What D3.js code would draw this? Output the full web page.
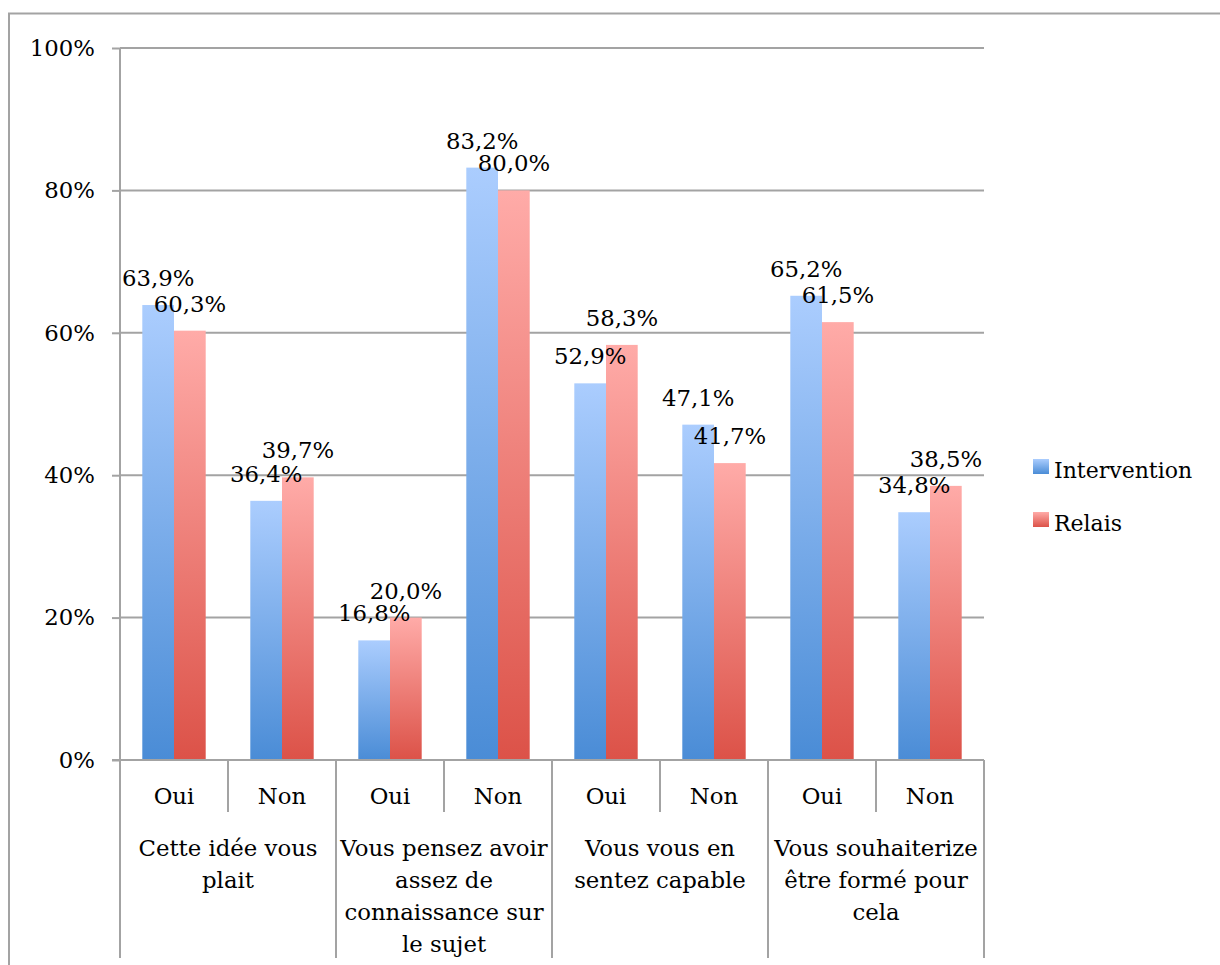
<!DOCTYPE html>
<html><head><meta charset="utf-8">
<script src="https://cdn.jsdelivr.net/npm/d3@7"></script>
<style>body{margin:0;background:#fff}svg{display:block}text{font-family:"DejaVu Serif",serif;fill:#000}</style>
</head><body>
<script>
const groups = [
  ["Cette idée vous", "plait"],
  ["Vous pensez avoir", "assez de", "connaissance sur", "le sujet"],
  ["Vous vous en", "sentez capable"],
  ["Vous souhaiterize", "être formé pour", "cela"]
];
const answers = ["Oui", "Non"];
const series = ["Intervention", "Relais"];
const intervention = [0.639, 0.364, 0.168, 0.832, 0.529, 0.471, 0.652, 0.348];
const relais = [0.603, 0.397, 0.200, 0.800, 0.583, 0.417, 0.615, 0.385];
const yTicks = [0, 0.2, 0.4, 0.6, 0.8, 1.0];

(function () {
const W = 1220, H = 965;
const svg = d3.select("body").append("svg").attr("width", W).attr("height", H);
const FS = 22.8;

const defs = svg.append("defs");
const grads = [["gBlue", "#abcdfe", "#4a8cd6"], ["gRed", "#ffaba8", "#dc5248"]];
grads.forEach(([id, c1, c2]) => {
  const g = defs.append("linearGradient").attr("id", id).attr("x1", 0).attr("y1", 0).attr("x2", 0).attr("y2", 1);
  g.append("stop").attr("offset", "0%").attr("stop-color", c1);
  g.append("stop").attr("offset", "100%").attr("stop-color", c2);
});
const fills = ["url(#gBlue)", "url(#gRed)"];

svg.append("rect").attr("x", 9).attr("y", 13.5).attr("width", W + 20).attr("height", H + 20)
  .attr("fill", "none").attr("stroke", "#a3a3a3").attr("stroke-width", 2);

const pLeft = 120, pRight = 984, pTop = 48, pBottom = 760;
const y = d3.scaleLinear().domain([0, 1]).range([pBottom, pTop]);
const subs = [];
groups.forEach((g, gi) => answers.forEach((a, ai) => subs.push(gi * 2 + ai)));
const x0 = d3.scaleBand().domain(subs).range([pLeft, pRight]).padding(0);
const x1 = d3.scaleBand().domain(series).range([22.3, x0.bandwidth() - 22.3]).padding(0);

const axisColor = "#a3a3a3";
const yAxis = d3.axisLeft(y).tickValues(yTicks).tickFormat(d3.format(".0%")).tickSize(8).tickPadding(17);
const ya = svg.append("g").attr("transform", `translate(${pLeft},0)`).call(yAxis);
ya.select(".domain").remove();
ya.selectAll(".tick line").attr("stroke", axisColor).attr("stroke-width", 2);
ya.selectAll(".tick text").style("font-family", "DejaVu Serif").style("font-size", FS + "px").attr("fill", "#000");
svg.append("g").selectAll("line").data(yTicks).join("line")
  .attr("x1", pLeft).attr("x2", pRight).attr("y1", d => y(d)).attr("y2", d => y(d))
  .attr("stroke", axisColor).attr("stroke-width", 2);

const vals = [intervention, relais];
series.forEach((s, si) => {
  svg.append("g").selectAll("rect").data(vals[si]).join("rect")
    .attr("x", (d, i) => x0(i) + x1(s))
    .attr("width", x1.bandwidth())
    .attr("y", d => y(d))
    .attr("height", d => y(0) - y(d))
    .attr("fill", fills[si]);
});

svg.append("line").attr("x1", pLeft).attr("x2", pLeft).attr("y1", pTop).attr("y2", 958)
  .attr("stroke", axisColor).attr("stroke-width", 2);
svg.append("line").attr("x1", pLeft - 8).attr("x2", pRight).attr("y1", pBottom).attr("y2", pBottom)
  .attr("stroke", axisColor).attr("stroke-width", 2);
subs.forEach(i => {
  if (i === 0) return;
  const xx = x0(i);
  svg.append("line").attr("x1", xx).attr("x2", xx).attr("y1", pBottom).attr("y2", i % 2 === 0 ? 958 : 812)
    .attr("stroke", axisColor).attr("stroke-width", 2);
});
svg.append("line").attr("x1", pRight).attr("x2", pRight).attr("y1", pBottom).attr("y2", 958)
  .attr("stroke", axisColor).attr("stroke-width", 2);

svg.append("g").selectAll("text").data(subs).join("text")
  .attr("x", i => x0(i) + x0.bandwidth() / 2).attr("y", 804)
  .attr("text-anchor", "middle").style("font-size", FS + "px")
  .text(i => answers[i % 2]);

groups.forEach((lines, gi) => {
  const cx = x0(gi * 2) + x0.bandwidth();
  const t = svg.append("text").attr("text-anchor", "middle").style("font-size", FS + "px");
  lines.forEach((ln, li) => t.append("tspan").attr("x", cx).attr("y", 856 + li * 32).text(ln));
});

const fmt = v => d3.format(".1%")(v).replace(".", ",");
series.forEach((s, si) => {
  svg.append("g").selectAll("text").data(vals[si]).join("text")
    .attr("x", (d, i) => x0(i) + x1(s) + x1.bandwidth() / 2)
    .attr("y", d => y(d) - 19)
    .attr("text-anchor", "middle").style("font-size", FS + "px")
    .text(d => fmt(d));
});

const leg = svg.append("g");
series.forEach((s, si) => {
  const yy = 466 + si * 53;
  leg.append("rect").attr("x", 1033).attr("y", yy - 7).attr("width", 16).attr("height", 15).attr("fill", fills[si]);
  leg.append("text").attr("x", 1054).attr("y", yy + 12).style("font-size", "22px").text(s);
});
})();
</script>
</body></html>
